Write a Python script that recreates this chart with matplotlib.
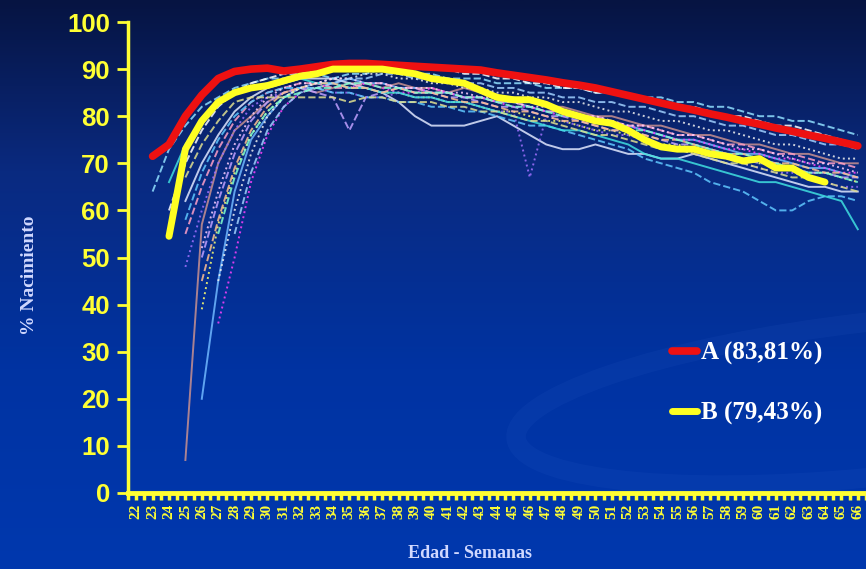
import numpy as np
import matplotlib
matplotlib.use("Agg")
import matplotlib.pyplot as plt
from matplotlib.colors import LinearSegmentedColormap
from matplotlib.patches import Ellipse

# ---------------- data ----------------
weeks = list(range(22, 67))
y_ticks = [0, 10, 20, 30, 40, 50, 60, 70, 80, 90, 100]

start_A = 23
series_A = [71.5, 74, 80, 84.5, 88, 89.5, 90, 90.2, 89.6, 90, 90.5, 91, 91.2, 91.2, 91,
            90.8, 90.6, 90.4, 90.2, 90, 89.8, 89.2, 88.7, 88.2, 87.7, 87.1, 86.6, 86.0,
            85.2, 84.4, 83.6, 82.8, 82.0, 81.3, 80.5, 79.8, 79.0, 78.3, 77.5, 76.8, 76.0,
            75.3, 74.5, 73.7]
label_A = "A (83,81%)"

start_B = 24
series_B = [54.5, 73, 79, 83, 85, 86, 86.5, 87.5, 88.5, 89, 90, 90, 90, 90, 89.5, 89, 88,
            87.5, 87, 85.5, 84, 83.5, 83.5, 82.5, 81, 80, 79, 78.5, 77, 75, 73.5, 73, 73,
            72, 71.5, 70.5, 71, 69, 69, 67, 66]
label_B = "B (79,43%)"

# background flocks (start week, weekly values)
bg01_start, bg01 = 25, [7, 57, 70, 77, 80, 83, 85, 86, 85, 86, 87, 87, 86, 87, 86, 86, 85, 86, 85, 84, 84, 83, 82, 82, 81, 80, 80, 79, 78, 78, 77, 76, 76, 75, 74, 74, 73, 72, 72, 71, 70, 70]
bg02_start, bg02 = 26, [20, 45, 64, 75, 80, 84, 86, 87, 87, 88, 87, 87, 86, 86, 85, 85, 84, 84, 83, 83, 82, 81, 81, 80, 79, 78, 78, 77, 76, 75, 75, 74, 73, 72, 72, 71, 70, 69, 69, 68, 67]
bg03_start, bg03 = 26, [39, 57, 68, 76, 81, 84, 86, 86, 87, 86, 86, 85, 85, 84, 84, 83, 83, 82, 81, 81, 80, 79, 79, 78, 77, 77, 76, 75, 74, 74, 73, 72, 72, 71, 70, 70, 69, 68, 68, 67, 66]
bg04_start, bg04 = 27, [36, 50, 66, 76, 82, 85, 86, 87, 86, 87, 86, 85, 85, 86, 85, 84, 84, 83, 82, 82, 81, 80, 80, 79, 78, 78, 77, 76, 75, 75, 74, 73, 73, 72, 71, 71, 70, 69, 68, 68]
bg05_start, bg05 = 25, [62, 70, 76, 81, 84, 86, 87, 88, 88, 88, 87, 86, 85, 83, 80, 78, 78, 78, 79, 80, 78, 76, 74, 73, 73, 74, 73, 72, 72, 71, 71, 72, 71, 70, 69, 68, 67, 66, 65, 65, 64, 64]
bg06_start, bg06 = 23, [64, 73, 78, 82, 84, 86, 87, 88, 88, 89, 89, 88, 89, 89, 90, 90, 89, 89, 88, 88, 88, 87, 87, 87, 86, 86, 86, 85, 85, 84, 84, 84, 83, 83, 82, 82, 81, 80, 80, 79, 79, 78, 77, 76]
bg07_start, bg07 = 25, [55, 65, 73, 79, 83, 85, 86, 87, 87, 86, 86, 87, 87, 86, 86, 85, 85, 84, 84, 83, 83, 82, 81, 81, 80, 80, 79, 78, 78, 77, 76, 76, 75, 74, 74, 73, 72, 72, 71, 70, 70, 69]
bg08_start, bg08 = 26, [50, 62, 72, 79, 83, 85, 86, 85, 84, 77, 84, 85, 86, 85, 85, 84, 84, 83, 82, 82, 81, 80, 80, 79, 78, 77, 77, 76, 75, 74, 74, 73, 72, 71, 70, 70, 69, 68, 68, 67, 67]
bg09_start, bg09 = 25, [48, 60, 70, 77, 82, 84, 85, 86, 86, 85, 85, 84, 84, 85, 84, 84, 83, 83, 82, 81, 81, 67, 80, 79, 78, 77, 76, 76, 75, 74, 73, 72, 72, 71, 70, 69, 68, 68, 67, 66, 65, 65]
bg10_start, bg10 = 24, [60, 70, 77, 82, 85, 87, 88, 89, 89, 90, 90, 90, 91, 91, 91, 90, 90, 90, 89, 89, 88, 88, 87, 87, 86, 86, 85, 85, 84, 84, 83, 82, 82, 81, 80, 80, 79, 78, 78, 77, 76, 75, 74]
bg11_start, bg11 = 25, [58, 68, 75, 80, 83, 85, 86, 86, 86, 85, 85, 84, 84, 83, 83, 82, 82, 81, 81, 80, 79, 78, 78, 77, 76, 75, 74, 73, 71, 70, 69, 68, 66, 65, 64, 62, 60, 60, 62, 63, 63, 62]
bg12_start, bg12 = 24, [66, 74, 79, 83, 85, 86, 87, 87, 88, 87, 87, 86, 86, 85, 85, 84, 84, 83, 83, 82, 81, 80, 79, 78, 77, 77, 76, 75, 74, 72, 71, 71, 70, 69, 68, 67, 66, 66, 65, 64, 63, 62, 56]
bg13_start, bg13 = 26, [45, 58, 69, 77, 82, 85, 86, 87, 87, 86, 86, 85, 86, 85, 85, 84, 83, 83, 82, 81, 81, 80, 79, 79, 78, 77, 77, 76, 75, 75, 74, 73, 72, 72, 71, 70, 70, 69, 68, 68, 67]
bg14_start, bg14 = 27, [45, 60, 72, 80, 84, 86, 87, 88, 88, 89, 89, 88, 88, 87, 87, 86, 86, 85, 85, 84, 84, 83, 83, 82, 81, 81, 80, 79, 79, 78, 77, 77, 76, 75, 74, 74, 73, 72, 71, 71]
bg15_start, bg15 = 26, [52, 64, 74, 80, 84, 86, 87, 87, 88, 88, 87, 87, 86, 86, 86, 85, 85, 84, 84, 83, 82, 82, 81, 80, 80, 79, 78, 78, 77, 76, 76, 75, 74, 73, 73, 72, 71, 70, 70, 69, 68]
bg16_start, bg16 = 28, [55, 68, 77, 82, 85, 86, 87, 88, 88, 89, 89, 88, 88, 88, 87, 87, 86, 86, 85, 85, 84, 84, 83, 83, 82, 82, 81, 80, 80, 79, 78, 78, 77, 76, 76, 75, 74, 74, 73]
bg17_start, bg17 = 25, [67, 74, 79, 83, 84, 84, 84, 84, 84, 84, 83, 84, 84, 83, 83, 83, 82, 82, 81, 81, 80, 79, 79, 78, 77, 76, 76, 75, 74, 73, 73, 72, 71, 70, 70, 69, 68, 67, 67, 66, 65, 64]
bg18_start, bg18 = 27, [55, 67, 76, 81, 84, 85, 86, 86, 87, 87, 86, 86, 85, 85, 85, 84, 84, 83, 82, 82, 81, 80, 80, 79, 78, 77, 77, 76, 75, 74, 73, 72, 72, 71, 70, 69, 68, 68, 67, 66]

background = [
    (bg01_start, bg01, "#c89090", "-"),
    (bg02_start, bg02, "#70b8ff", "-"),
    (bg03_start, bg03, "#ffff70", ":"),
    (bg04_start, bg04, "#ff40ff", ":"),
    (bg05_start, bg05, "#e0e8ff", "-"),
    (bg06_start, bg06, "#90e0ff", "--"),
    (bg07_start, bg07, "#ffa0c8", "--"),
    (bg08_start, bg08, "#c0a0ff", "--"),
    (bg09_start, bg09, "#a070ff", ":"),
    (bg10_start, bg10, "#ffffff", "--"),
    (bg11_start, bg11, "#60c8ff", "--"),
    (bg12_start, bg12, "#40e0e0", "-"),
    (bg13_start, bg13, "#ffc090", "--"),
    (bg14_start, bg14, "#f0f0f0", ":"),
    (bg15_start, bg15, "#ffd0ff", ":"),
    (bg16_start, bg16, "#a0d0ff", "--"),
    (bg17_start, bg17, "#e0e090", "--"),
    (bg18_start, bg18, "#80ffd0", "--"),
]

# ---------------- figure ----------------
W, H = 866, 569
fig = plt.figure(figsize=(W / 100, H / 100), dpi=100)

bgax = fig.add_axes([0, 0, 1, 1], zorder=0)
cmap = LinearSegmentedColormap.from_list(
    "bg", [(0.0, "#061442"), (0.3, "#0a2a80"), (0.65, "#0033a2"), (1.0, "#0038ae")])
grad = np.linspace(0, 1, 256).reshape(-1, 1)
bgax.imshow(grad, aspect="auto", cmap=cmap, extent=[0, 1, 0, 1], origin="upper")
# faint swoosh in the lower right
bgax.add_patch(Ellipse((1.02, 0.30), 0.86, 0.27, angle=10, facecolor="none",
                       edgecolor="#3a6ad0", lw=14, alpha=0.10))
bgax.set_xlim(0, 1)
bgax.set_ylim(0, 1)
bgax.set_axis_off()

ax = fig.add_axes([128 / W, 76 / H, 738 / W, 471 / H], zorder=1)
ax.patch.set_alpha(0)

for st, vals, col, ls in background:
    ax.plot(np.arange(st, st + len(vals)), vals, color=col, ls=ls, lw=1.4, alpha=0.85)

ax.plot(np.arange(start_A, start_A + len(series_A)), series_A, color="#ee1111",
        lw=5.5, solid_capstyle="round", label=label_A, zorder=5)
ax.plot(np.arange(start_B, start_B + len(series_B)), series_B, color="#ffff22",
        lw=5, solid_capstyle="round", label=label_B, zorder=6)

ax.set_xlim(21.5, 66.5)
ax.set_ylim(0, 100)
yel = "#ffff33"
for s in ["top", "right"]:
    ax.spines[s].set_visible(False)
ax.spines["left"].set_color(yel)
ax.spines["left"].set_linewidth(2.5)
ax.spines["bottom"].set_color(yel)
ax.spines["bottom"].set_linewidth(3.5)

ax.set_yticks(y_ticks)
ax.set_yticklabels([str(v) for v in y_ticks], color=yel,
                   fontfamily="Liberation Sans", fontweight="bold", fontsize=18.5)
ax.tick_params(axis="y", colors=yel, length=8, width=2, pad=5)

ax.set_xticks(weeks)
ax.set_xticks(np.arange(21.5, 67, 1.0), minor=True)
ax.set_xticklabels([str(w) for w in weeks], rotation=90, color=yel,
                   fontfamily="Liberation Serif", fontweight="bold", fontsize=11)
ax.tick_params(axis="x", which="both", colors=yel, length=5, width=2.5, pad=3)

fig.text(30 / W, 1 - 275 / H, "% Nacimiento", rotation=90, ha="center", va="center",
         color="#d0d8ff", fontfamily="Liberation Serif", fontweight="bold", fontsize=14)
fig.text(470 / W, 1 - 553 / H, "Edad - Semanas", ha="center", va="center",
         color="#d0d8ff", fontfamily="Liberation Serif", fontweight="bold", fontsize=13)

leg = ax.legend(loc="upper left", bbox_to_anchor=(672 / W, 1 - 342 / H),
                bbox_transform=fig.transFigure, frameon=False, handlelength=1.0,
                handletextpad=0.15, labelspacing=1.45, borderpad=0, borderaxespad=0,
                prop={"family": "Liberation Serif", "weight": "bold", "size": 18})
for t in leg.get_texts():
    t.set_color("white")

fig.savefig("out.png", dpi=100)
